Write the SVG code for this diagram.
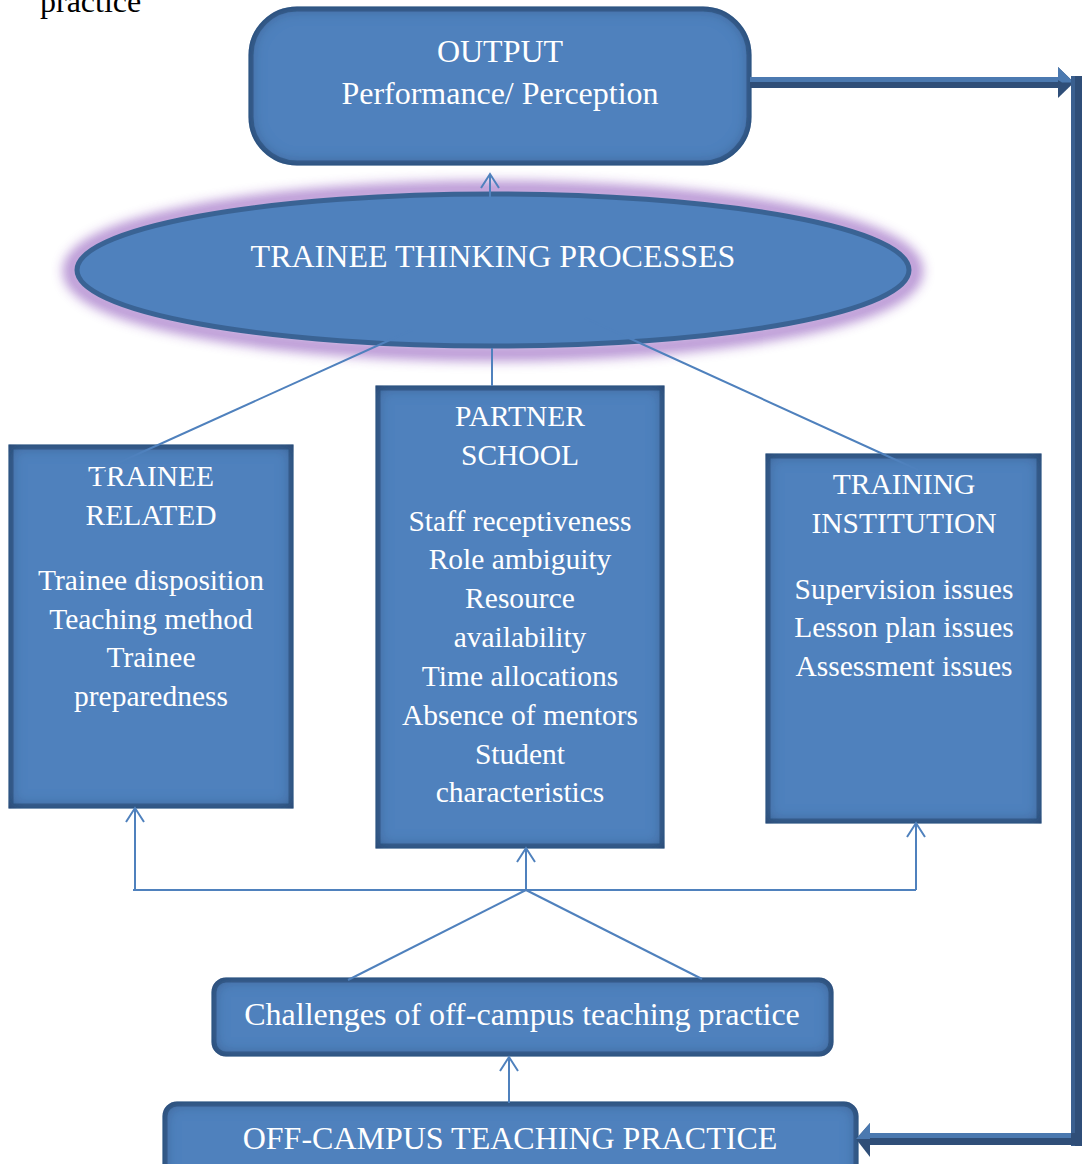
<svg xmlns="http://www.w3.org/2000/svg" width="1085" height="1164" viewBox="0 0 1085 1164">
<style>
.box{fill:#4F81BD;stroke:#3A6394;stroke-width:5}
.t{font-family:"Liberation Serif","Times New Roman",serif;fill:#ffffff;text-anchor:middle}
.s26{font-size:29.5px}
.ln{stroke:#4F81BD;stroke-width:2;fill:none}
.thick{fill:#2F4E78}
.hl{fill:#4B79B0}
</style>
<defs>
<filter id="glow" x="-10%" y="-30%" width="120%" height="160%">
<feGaussianBlur stdDeviation="6"/>
</filter>
<filter id="inner" x="-5%" y="-5%" width="110%" height="110%">
<feGaussianBlur in="SourceAlpha" stdDeviation="8" result="b"/>
<feComposite in="SourceAlpha" in2="b" operator="out" result="edge"/>
<feFlood flood-color="#1F3A62" flood-opacity="0.85"/>
<feComposite in2="edge" operator="in" result="sh"/>
<feMerge><feMergeNode in="SourceGraphic"/><feMergeNode in="sh"/></feMerge>
</filter>
</defs>

<text x="40" y="12" font-family="Liberation Serif, serif" font-size="32" fill="#000">practice</text>

<g id="output">
<rect class="box" x="251" y="9" width="498" height="154" rx="46" filter="url(#inner)"/>
<text class="t" x="500" y="62" font-size="32">OUTPUT</text>
<text class="t" x="500" y="104" font-size="32">Performance/ Perception</text>
</g>

<g id="thinking">
<ellipse cx="493" cy="271" rx="422" ry="82" fill="none" stroke="#B48FD2" stroke-width="16" filter="url(#glow)" opacity="0.95"/>
<ellipse cx="493" cy="270" rx="416" ry="76" fill="#4F81BD" stroke="#3A6394" stroke-width="5"/>
<text class="t" x="493" y="267" font-size="32">TRAINEE THINKING PROCESSES</text>
</g>

<g id="trainee">
<rect class="box" x="11" y="447" width="280" height="359" filter="url(#inner)"/>
<text class="t s26" x="151" y="486">TRAINEE</text>
<text class="t s26" x="151" y="525">RELATED</text>
<text class="t s26" x="151" y="590">Trainee disposition</text>
<text class="t s26" x="151" y="629">Teaching method</text>
<text class="t s26" x="151" y="667">Trainee</text>
<text class="t s26" x="151" y="706">preparedness</text>
</g>

<g id="partner">
<rect class="box" x="378" y="388" width="284" height="458" filter="url(#inner)"/>
<text class="t s26" x="520" y="426">PARTNER</text>
<text class="t s26" x="520" y="465">SCHOOL</text>
<text class="t s26" x="520" y="531">Staff receptiveness</text>
<text class="t s26" x="520" y="569">Role ambiguity</text>
<text class="t s26" x="520" y="608">Resource</text>
<text class="t s26" x="520" y="647">availability</text>
<text class="t s26" x="520" y="686">Time allocations</text>
<text class="t s26" x="520" y="725">Absence of mentors</text>
<text class="t s26" x="520" y="764">Student</text>
<text class="t s26" x="520" y="802">characteristics</text>
</g>

<g id="training">
<rect class="box" x="768" y="456" width="271" height="365" filter="url(#inner)"/>
<text class="t s26" x="904" y="494">TRAINING</text>
<text class="t s26" x="904" y="533">INSTITUTION</text>
<text class="t s26" x="904" y="599">Supervision issues</text>
<text class="t s26" x="904" y="637">Lesson plan issues</text>
<text class="t s26" x="904" y="676">Assessment issues</text>
</g>

<g id="challenges">
<rect class="box" x="214" y="980" width="617" height="74" rx="12" filter="url(#inner)"/>
<text class="t" x="522" y="1025" font-size="32">Challenges of off-campus teaching practice</text>
</g>

<g id="offcampus">
<rect class="box" x="165" y="1104" width="691" height="80" rx="12" filter="url(#inner)"/>
<text class="t" x="510" y="1149" font-size="32">OFF-CAMPUS TEACHING PRACTICE</text>
</g>

<g id="connectors">
<path class="ln" d="M490,222 V174"/>
<path d="M481,188 L490,174 L499,188" class="ln"/>
<path class="ln" d="M412,330 L85,478"/>
<path class="ln" d="M492,348 V386"/>
<path class="ln" d="M585,318 L918,470"/>
<path class="ln" d="M133,890 H916"/>
<path class="ln" d="M135,890 V810"/>
<path class="ln" d="M126,822 L135,808 L144,822"/>
<path class="ln" d="M526,890 V850"/>
<path class="ln" d="M517,862 L526,848 L535,862"/>
<path class="ln" d="M916,890 V825"/>
<path class="ln" d="M907,837 L916,823 L925,837"/>
<path class="ln" d="M526,890 L348,980"/>
<path class="ln" d="M526,890 L702,979"/>
<path class="ln" d="M509,1103 V1059"/>
<path class="ln" d="M500,1071 L509,1057 L518,1071"/>
<!-- thick feedback arrow -->
<rect class="thick" x="750" y="77" width="312" height="11"/>
<rect class="hl" x="750" y="77" width="312" height="5"/>
<polygon class="thick" points="1058,67 1074,82.5 1058,98"/>
<polygon class="hl" points="1058,67 1074,82.5 1062,82.5 1058,80"/>
<rect class="thick" x="1071" y="76" width="11" height="1070"/>
<rect fill="#3A5F8F" x="1071" y="76" width="4" height="1070"/>
<rect class="thick" x="868" y="1133" width="214" height="12"/>
<rect class="hl" x="868" y="1133" width="203" height="5"/>
<polygon class="thick" points="870,1123 856,1139 870,1157"/>
<polygon class="hl" points="870,1123 856,1139 870,1139"/>
</g>
</svg>
